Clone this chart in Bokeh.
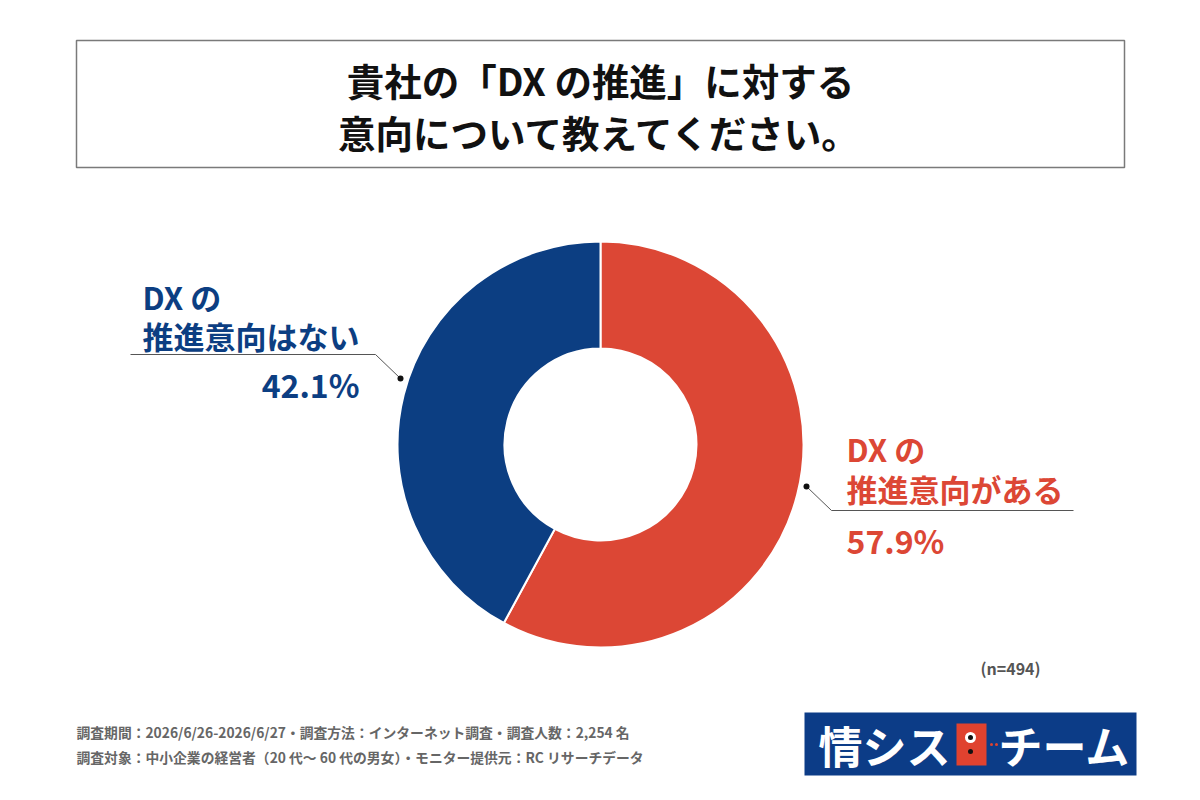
import math
from bokeh.plotting import figure
from bokeh.models import Range1d, ColumnDataSource
from bokeh.core.properties import value
from bokeh.embed import file_html
from bokeh.resources import INLINE

# ---- data ----
categories = ["DX の推進意向がある", "DX の推進意向はない"]
shares = [57.9, 42.1]
colors = ["#dc4735", "#0c3e82"]
title_lines = ["貴社の「DX の推進」に対する", "意向について教えてください。"]
n_note = "(n=494)"
footer_lines = [
    "調査期間：2026/6/26-2026/6/27・調査方法：インターネット調査・調査人数：2,254 名",
    "調査対象：中小企業の経営者（20 代～ 60 代の男女）・モニター提供元：RC リサーチデータ",
]

FONT = value("Noto Sans CJK JP")
W, H = 1200, 800


def Y(py):
    return H - py


p = figure(width=W, height=H, x_range=Range1d(0, W), y_range=Range1d(0, H),
           output_backend="svg", toolbar_location=None, min_border=0)
p.axis.visible = False
p.grid.visible = False
p.outline_line_color = None
p.background_fill_color = "white"
p.border_fill_color = "white"

# ---- title box ----
p.quad(left=[76], right=[1124], top=[Y(40)], bottom=[Y(167)],
       fill_color="white", line_color="#7a7a7a", line_width=1.5)
p.text(x=[600, 600], y=[Y(79), Y(131)], text=title_lines, text_font=FONT,
       text_font_style="bold", text_font_size="37.5px", text_color="#111111",
       text_align="center", text_baseline="middle")

# ---- donut ----
cx, cy = 600, Y(444)
starts, ends = [], []
a = math.pi / 2
for s in shares:
    starts.append(a)
    a = a - s / 100 * 2 * math.pi
    ends.append(a)
src = ColumnDataSource(dict(start=starts, end=ends, color=colors, cat=categories))
p.annular_wedge(x=cx, y=cy, inner_radius=96, outer_radius=203,
                start_angle="start", end_angle="end", direction="clock",
                fill_color="color", line_color="white", line_width=2, source=src)

# ---- labels ----
label_font = "31px"
pct_font = "32px"
# red (has intention)
p.text(x=[846, 846], y=[Y(448), Y(488)], text=["DX の", "推進意向がある"],
       text_font=FONT, text_font_style="bold", text_font_size=label_font,
       text_color=colors[0], text_align="left", text_baseline="middle")
p.text(x=[846], y=[Y(539)], text=[f"{shares[0]}%"], text_font=FONT,
       text_font_style="bold", text_font_size=pct_font, text_color=colors[0],
       text_align="left", text_baseline="middle")
p.line(x=[806, 831, 1073], y=[Y(486), Y(510), Y(510)], line_color="#555555", line_width=1)
p.scatter(x=[806], y=[Y(486)], size=6, fill_color="#111111", line_color=None)

# blue (no intention)
p.text(x=[142, 142], y=[Y(296), Y(335)], text=["DX の", "推進意向はない"],
       text_font=FONT, text_font_style="bold", text_font_size=label_font,
       text_color=colors[1], text_align="left", text_baseline="middle")
p.text(x=[359], y=[Y(383)], text=[f"{shares[1]}%"], text_font=FONT,
       text_font_style="bold", text_font_size=pct_font, text_color=colors[1],
       text_align="right", text_baseline="middle")
p.line(x=[130, 375, 400], y=[Y(354), Y(354), Y(378)], line_color="#555555", line_width=1)
p.scatter(x=[400], y=[Y(378)], size=6, fill_color="#111111", line_color=None)

# ---- n note ----
p.text(x=[1010], y=[Y(667)], text=[n_note], text_font=FONT, text_font_size="16px",
       text_font_style="bold", text_color="#555555", text_align="center",
       text_baseline="middle")

# ---- footer ----
p.text(x=[76, 76], y=[Y(731), Y(756)], text=footer_lines, text_font=FONT,
       text_font_style="bold", text_font_size="13.8px", text_color="#666666",
       text_align="left", text_baseline="middle")

# ---- logo ----
p.quad(left=[804], right=[1136], top=[Y(712)], bottom=[Y(775)],
       fill_color="#0c3c87", line_color=None)
p.text(x=[818], y=[Y(744)], text=["情シス"], text_font=FONT, text_font_style="bold",
       text_font_size="44px", text_color="white", text_align="left", text_baseline="middle")
p.quad(left=[956], right=[986], top=[Y(723)], bottom=[Y(765)],
       fill_color="#e0422f", line_color=None)
p.scatter(x=[970], y=[Y(737)], size=11, fill_color="white", line_color=None)
p.scatter(x=[970], y=[Y(737)], size=5, fill_color="#111111", line_color=None)
p.scatter(x=[970], y=[Y(751)], size=5, fill_color="#111111", line_color=None)
p.scatter(x=[991, 996], y=[Y(744), Y(744)], size=3, fill_color="#e0422f", line_color=None)
p.text(x=[998], y=[Y(744)], text=["チーム"], text_font=FONT, text_font_style="bold",
       text_font_size="44px", text_color="white", text_align="left", text_baseline="middle")

open("out.html", "w").write(file_html(p, INLINE))
